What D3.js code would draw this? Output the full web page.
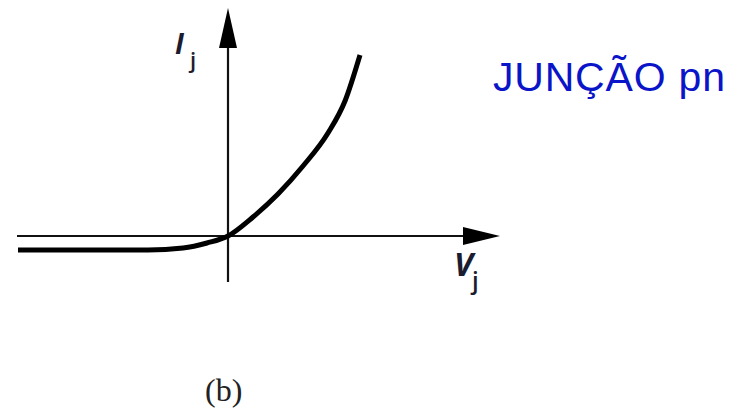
<!DOCTYPE html>
<html>
<head>
<meta charset="utf-8">
<script src="https://cdn.jsdelivr.net/npm/d3@7"></script>
<style>
  html, body { margin: 0; padding: 0; background: #fff; }
  svg { display: block; }
</style>
</head>
<body>
<svg id="chart" width="731" height="410"></svg>
<script>
// Junction voltage (V) and junction current (I), arbitrary units
const vj = [-2.10, -0.80, -0.45, -0.21, 0.00, 0.25, 0.50, 0.75, 1.00, 1.17, 1.32];
const ij = [-0.14, -0.14, -0.12, -0.07, 0.00, 0.19, 0.42, 0.70, 1.03, 1.35, 1.81];

// Axis extents (data units)
const xAxisRange = [-2.11, 2.72];
const yAxisRange = [-0.46, 2.28];

const title = "JUNÇÃO pn";
const caption = "(b)";

const svg = d3.select("#chart");

const x = d3.scaleLinear().domain(xAxisRange).range([17, 500]);
const y = d3.scaleLinear().domain(yAxisRange).range([282, 8]);

// Axes drawn as arrows through the origin
const axisColor = "#111";
svg.append("line")
  .attr("x1", x(xAxisRange[0])).attr("x2", x(xAxisRange[1]) - 20)
  .attr("y1", y(0)).attr("y2", y(0))
  .attr("stroke", axisColor).attr("stroke-width", 2.2);
svg.append("line")
  .attr("x1", x(0)).attr("x2", x(0))
  .attr("y1", y(yAxisRange[0])).attr("y2", y(yAxisRange[1]) + 20)
  .attr("stroke", axisColor).attr("stroke-width", 2.2);

// Arrowheads
const xt = x(xAxisRange[1]), yt = y(0);
svg.append("path")
  .attr("d", `M${xt},${yt} L${xt - 37},${yt - 9} L${xt - 37},${yt + 9} Z`)
  .attr("fill", "#000");
const xv = x(0), yv = y(yAxisRange[1]);
svg.append("path")
  .attr("d", `M${xv},${yv} L${xv - 9},${yv + 40} L${xv + 9},${yv + 40} Z`)
  .attr("fill", "#000");

// I-V characteristic
const pts = vj.map((v, i) => [v, ij[i]]);
const line = d3.line()
  .x(d => x(d[0]))
  .y(d => y(d[1]))
  .curve(d3.curveMonotoneX);
svg.append("path")
  .datum(pts)
  .attr("d", line)
  .attr("fill", "none")
  .attr("stroke", "#000")
  .attr("stroke-width", 5)
  .attr("stroke-linecap", "butt");

// Axis labels
const labelFont = "'Open Sans', 'DejaVu Sans', sans-serif";
const iLab = svg.append("text")
  .attr("x", 175).attr("y", 54)
  .attr("font-family", labelFont)
  .attr("fill", "#1c1c30");
iLab.append("tspan").text("I")
  .attr("font-size", 28).attr("font-style", "italic").attr("font-weight", "bold");
iLab.append("tspan").text("j")
  .attr("font-size", 22).attr("dx", 6).attr("dy", 14).attr("font-weight", "600");

const vLab = svg.append("text")
  .attr("x", 454).attr("y", 276)
  .attr("font-family", labelFont)
  .attr("fill", "#1c1c30");
vLab.append("tspan").text("V")
  .attr("font-size", 32).attr("font-style", "italic").attr("font-weight", "bold");
vLab.append("tspan").text("j")
  .attr("font-size", 24).attr("dx", -1).attr("dy", 13).attr("font-weight", "600");

// Title
svg.append("text")
  .attr("x", 493).attr("y", 91)
  .attr("font-family", "'Liberation Sans', Arial, sans-serif")
  .attr("font-size", 41)
  .attr("textLength", 232)
  .attr("lengthAdjust", "spacing")
  .attr("fill", "#0a14c8")
  .text(title);

// Caption
svg.append("text")
  .attr("x", 205).attr("y", 401)
  .attr("font-family", "'Liberation Serif', 'Times New Roman', serif")
  .attr("font-size", 32)
  .attr("fill", "#222")
  .text(caption);
</script>
</body>
</html>
